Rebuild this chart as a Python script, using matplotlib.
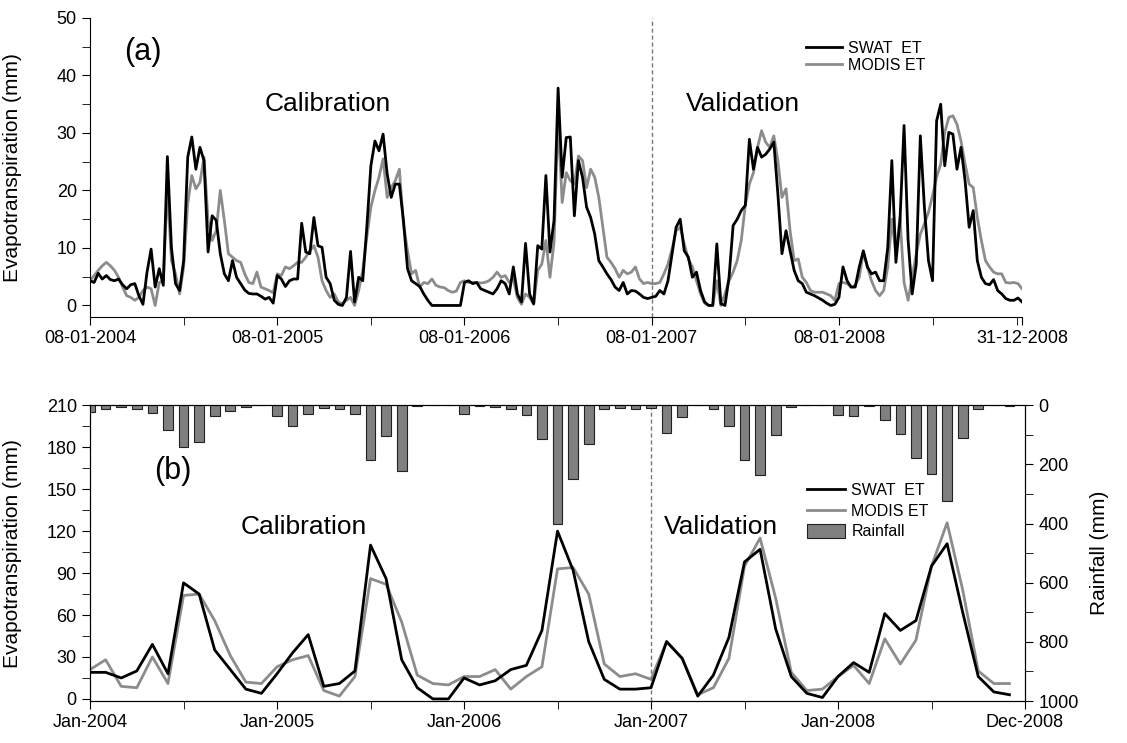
import numpy as np
import matplotlib
matplotlib.use("Agg")
import matplotlib.pyplot as plt

plt.rcParams['font.family'] = ['Liberation Sans', 'DejaVu Sans']

# 8-day ET (mm), 46 composites per year
swat_2004 = [4.3, 4.0, 5.6, 4.6, 5.2, 4.5, 4.3, 4.6, 3.6, 2.9, 3.6, 3.8, 1.7, 0.2, 5.8, 9.8,
             3.2, 6.4, 3.5, 25.9, 10.0, 3.8, 2.6, 7.8, 25.8, 29.3, 23.7, 27.5, 25.2, 9.3, 15.6, 14.8,
             9.0, 5.5, 4.3, 7.8, 4.9, 3.8, 2.7, 2.1, 2.0, 2.0, 1.6, 1.1, 1.4, 0.4]
swat_2005 = [5.2, 4.6, 3.3, 4.3, 4.6, 4.6, 14.3, 9.3, 9.0, 15.3, 10.4, 10.1, 4.9, 3.8, 0.9, 0.2,
             0.0, 1.4, 9.4, 0.6, 4.9, 4.3, 13.6, 24.3, 28.6, 26.9, 29.8, 22.9, 18.8, 21.1, 21.1, 14.8,
             6.4, 4.3, 3.8, 3.3, 2.0, 0.9, 0.0, 0.0, 0.0, 0.0, 0.0, 0.0, 0.0, 0.0]
swat_2006 = [4.0, 4.3, 3.8, 4.0, 2.9, 2.6, 2.3, 2.0, 2.9, 4.3, 3.8, 2.0, 6.7, 2.0, 0.6, 10.8,
             2.0, 0.3, 10.4, 9.8, 22.6, 9.3, 14.8, 37.8, 22.3, 29.2, 29.3, 15.6, 25.2, 22.3, 17.1, 15.3,
             12.4, 7.8, 6.7, 5.5, 4.5, 3.2, 2.6, 4.0, 2.0, 2.6, 2.5, 2.0, 1.4, 1.2]
swat_2007 = [1.4, 1.6, 2.6, 2.0, 4.3, 9.0, 13.6, 15.0, 9.5, 8.4, 4.9, 5.8, 2.6, 0.6, 0.0, 0.0,
             10.7, 0.3, 0.0, 4.9, 13.9, 15.0, 16.5, 17.4, 28.9, 23.7, 27.5, 25.8, 26.3, 27.2, 28.4, 19.4,
             9.0, 13.0, 9.5, 6.1, 4.3, 3.8, 2.3, 2.0, 1.7, 1.3, 0.9, 0.4, 0.0, 0.2]
swat_2008 = [1.4, 6.7, 4.3, 3.2, 3.2, 6.7, 9.5, 6.7, 5.5, 5.8, 4.3, 4.3, 10.1, 25.2, 7.5, 14.8,
             31.3, 11.3, 2.0, 7.2, 29.5, 17.1, 7.8, 4.3, 32.1, 35.0, 24.3, 30.1, 29.8, 23.7, 27.5, 21.7,
             13.6, 16.5, 7.8, 4.9, 3.8, 3.6, 4.5, 2.6, 2.0, 1.2, 0.9, 0.9, 1.3, 0.6]

modis_2004 = [4.3, 5.2, 6.1, 6.9, 7.5, 6.9, 6.1, 4.9, 3.2, 1.7, 1.4, 0.9, 1.4, 2.6, 3.2, 2.9,
              0.0, 4.0, 4.3, 20.5, 7.8, 5.5, 2.0, 6.7, 17.7, 22.6, 20.3, 21.4, 25.8, 14.8, 11.3, 13.0,
              20.0, 14.8, 9.0, 8.4, 7.8, 7.5, 5.5, 4.0, 3.8, 5.8, 3.2, 2.9, 2.6, 2.2]
modis_2005 = [5.5, 5.2, 6.7, 6.4, 6.9, 7.5, 7.5, 8.4, 9.5, 10.4, 8.4, 4.3, 2.6, 1.4, 2.0, 0.6,
              0.3, 0.9, 1.4, 0.0, 2.6, 6.1, 11.9, 17.1, 20.0, 22.3, 25.5, 18.8, 20.5, 21.7, 23.7, 14.2,
              9.5, 5.5, 6.1, 3.2, 4.0, 3.8, 4.6, 3.5, 3.2, 3.1, 2.6, 2.3, 2.5, 4.0]
modis_2006 = [4.3, 4.0, 4.0, 4.0, 3.9, 4.0, 4.3, 4.9, 5.8, 4.9, 5.2, 4.0, 4.6, 1.4, 0.2, 2.0,
              1.4, 0.2, 6.1, 7.2, 11.3, 4.9, 11.0, 32.7, 17.9, 23.1, 21.7, 21.1, 26.0, 25.2, 20.5, 23.7,
              22.3, 18.8, 13.6, 8.4, 7.5, 6.4, 4.9, 6.1, 5.5, 5.8, 6.7, 4.6, 3.8, 4.0]
modis_2007 = [3.8, 3.8, 4.0, 5.5, 7.2, 9.8, 13.0, 13.6, 10.7, 8.1, 6.7, 4.3, 2.0, 0.4, 0.0, 0.0,
              4.3, 0.0, 2.0, 4.3, 5.8, 7.8, 11.3, 17.4, 21.1, 23.1, 27.5, 30.4, 28.4, 27.5, 29.5, 25.2,
              18.8, 20.3, 13.0, 7.8, 8.1, 4.9, 4.0, 2.6, 2.3, 2.3, 2.3, 2.0, 1.7, 0.9]
modis_2008 = [3.8, 4.0, 3.8, 3.2, 3.5, 4.9, 9.3, 6.7, 4.3, 2.6, 1.7, 2.6, 6.7, 15.0, 9.0, 15.3,
              4.0, 0.9, 4.9, 9.0, 12.4, 14.2, 16.2, 19.1, 22.3, 24.6, 30.1, 32.7, 33.0, 31.5, 28.6, 24.6,
              21.1, 20.5, 15.3, 11.3, 7.8, 6.7, 5.8, 5.5, 5.5, 4.0, 3.9, 4.0, 3.8, 2.9]

swat_8day = swat_2004 + swat_2005 + swat_2006 + swat_2007 + swat_2008
modis_8day = modis_2004 + modis_2005 + modis_2006 + modis_2007 + modis_2008
top_labels = ['08-01-2004', '08-01-2005', '08-01-2006', '08-01-2007', '08-01-2008', '31-12-2008']

# monthly ET (mm) and rainfall (mm), Jan-2004 .. Dec-2008
swat_month = [19, 19, 15, 20, 39, 18, 83, 75, 35, 21, 7, 4,
              18, 33, 46, 9, 11, 20, 110, 86, 28, 8, 0, 0,
              15, 10, 13, 21, 24, 49, 120, 92, 41, 14, 7, 7,
              8, 41, 29, 2, 17, 44, 98, 107, 50, 16, 4, 1,
              16, 26, 19, 61, 49, 56, 95, 111, 62, 16, 5, 3]
modis_month = [21, 28, 9, 8, 30, 11, 74, 75, 56, 31, 12, 11,
               23, 28, 31, 6, 2, 16, 86, 82, 55, 17, 11, 10,
               16, 16, 21, 7, 16, 23, 93, 94, 75, 25, 16, 18,
               14, 41, 29, 3, 8, 29, 95, 115, 72, 19, 6, 7,
               16, 24, 11, 43, 25, 42, 95, 126, 78, 20, 11, 11]
rain_month = [22, 11, 6, 13, 25, 84, 140, 123, 36, 20, 7, 0,
              37, 70, 28, 8, 11, 28, 184, 103, 221, 3, 0, 0,
              31, 3, 6, 11, 32, 114, 400, 248, 130, 13, 9, 13,
              9, 95, 41, 0, 13, 70, 184, 237, 100, 6, 0, 0,
              34, 36, 3, 50, 98, 179, 231, 322, 112, 13, 0, 3]
bottom_labels = ['Jan-2004', 'Jan-2005', 'Jan-2006', 'Jan-2007', 'Jan-2008', 'Dec-2008']

black = '#000000'
grey = '#8c8c8c'
TICK = 13
LAB = 15

fig = plt.figure(figsize=(11.27, 7.43), dpi=100)

# ---- (a) 8-day ----
ax1 = fig.add_axes([0.0799, 0.5734, 0.827, 0.4024])
t = np.arange(len(swat_8day)) / 46.0
ax1.plot(t, swat_8day, color=black, lw=2.0, label='SWAT  ET', zorder=3)
ax1.plot(t, modis_8day, color=grey, lw=2.0, label='MODIS ET', zorder=2)
ax1.axvline(3.0, color='#777777', lw=1, ls=(0, (3, 2)))
ax1.set_xlim(0, t[-1])
ax1.set_ylim(-2, 50)
ax1.set_xticks([0, 1, 2, 3, 4, t[-1]])
ax1.set_xticklabels(top_labels)
ax1.set_xticks([0.5, 1.5, 2.5, 3.5, 4.5, t[-1] - 0.025], minor=True)
ax1.set_yticks(range(0, 51, 10))
ax1.set_yticks(range(5, 50, 10), minor=True)
ax1.spines['top'].set_visible(False)
ax1.spines['right'].set_visible(False)
ax1.tick_params(axis='both', which='major', labelsize=TICK, length=6, direction='out')
ax1.tick_params(axis='both', which='minor', length=6, direction='out')
ax1.set_ylabel('Evapotranspiration (mm)', fontsize=LAB)
ax1.yaxis.set_label_coords(-0.073, 0.5)
ax1.text(0.28, 44, '(a)', fontsize=22, ha='center', va='center')
ax1.text(1.27, 35, 'Calibration', fontsize=19, ha='center', va='center')
ax1.text(3.49, 35, 'Validation', fontsize=19, ha='center', va='center')
ax1.legend(loc='upper left', bbox_to_anchor=(0.76, 0.95), frameon=False, fontsize=11.5,
           handlelength=2.2, handletextpad=0.4, labelspacing=0.1, borderpad=0)

# ---- (b) monthly ----
ax2 = fig.add_axes([0.0799, 0.0565, 0.8296, 0.398])
m = np.arange(len(swat_month))
l1, = ax2.plot(m, swat_month, color=black, lw=2.0, label='SWAT  ET', zorder=3)
l2, = ax2.plot(m, modis_month, color=grey, lw=2.0, label='MODIS ET', zorder=2)
ax2.axvline(36, color='#777777', lw=1, ls=(0, (3, 2)))
ax2.set_xlim(0, 60)
ax2.set_ylim(-1.5, 210)
ax2.set_xticks([0, 12, 24, 36, 48, 60])
ax2.set_xticklabels(bottom_labels)
ax2.set_xticks([6, 18, 30, 42, 54], minor=True)
ax2.set_yticks(range(0, 211, 30))
ax2.set_yticks(range(15, 210, 30), minor=True)
ax2.tick_params(axis='both', which='major', labelsize=TICK, length=6, direction='out')
ax2.tick_params(axis='both', which='minor', length=6, direction='out')
ax2.set_ylabel('Evapotranspiration (mm)', fontsize=LAB)
ax2.yaxis.set_label_coords(-0.073, 0.5)
ax2.text(5.3, 163, '(b)', fontsize=22, ha='center', va='center')
ax2.text(13.7, 123, 'Calibration', fontsize=19, ha='center', va='center')
ax2.text(40.5, 123, 'Validation', fontsize=19, ha='center', va='center')

ax3 = ax2.twinx()
b = ax3.bar(m, rain_month, width=0.62, color='#808080', edgecolor='#222222', lw=0.8,
            label='Rainfall')
ax3.set_ylim(1000, 0)
ax3.set_yticks(range(0, 1001, 200))
ax3.set_yticks(range(100, 1000, 200), minor=True)
ax3.tick_params(axis='y', which='major', labelsize=TICK, length=6, direction='out')
ax3.tick_params(axis='y', which='minor', length=6, direction='out')
ax3.set_ylabel('Rainfall (mm)', fontsize=LAB, labelpad=8)
ax3.legend([l1, l2, b], ['SWAT  ET', 'MODIS ET', 'Rainfall'], loc='upper left',
           bbox_to_anchor=(0.758, 0.765), frameon=False, fontsize=11.5,
           handlelength=2.4, handleheight=1.0, handletextpad=0.4, labelspacing=0.3,
           borderpad=0)

fig.savefig('out.png', dpi=100)
